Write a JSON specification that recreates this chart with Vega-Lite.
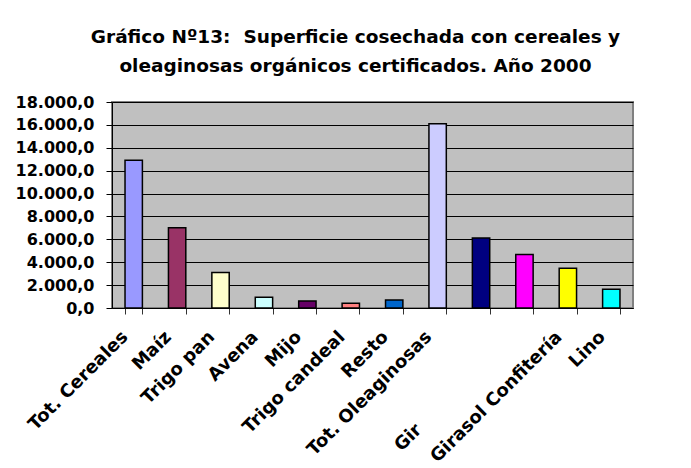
{
  "$schema": "https://vega.github.io/schema/vega-lite/v6.json",
  "width": 521,
  "height": 206,
  "autosize": "none",
  "padding": {"left": 112, "top": 102, "right": 58, "bottom": 160},
  "background": "white",
  "title": {
    "text": ["Gráfico Nº13:\u00a0 Superficie cosechada con cereales y", "oleaginosas orgánicos certificados. Año 2000"],
    "font": "DejaVu Sans",
    "fontWeight": "bold",
    "fontSize": 18.5,
    "lineHeight": 29,
    "color": "black",
    "anchor": "middle",
    "offset": 19,
    "dx": -17
  },
  "data": {
    "values": [
      {"cultivo": "Tot. Cereales", "superficie": 12900},
      {"cultivo": "Maíz", "superficie": 7020},
      {"cultivo": "Trigo pan", "superficie": 3100},
      {"cultivo": "Avena", "superficie": 940},
      {"cultivo": "Mijo", "superficie": 615},
      {"cultivo": "Trigo candeal", "superficie": 410},
      {"cultivo": "Resto", "superficie": 700},
      {"cultivo": "Tot. Oleaginosas", "superficie": 16100},
      {"cultivo": "Girasol", "superficie": 6120},
      {"cultivo": "Girasol Aceitero", "superficie": 4680},
      {"cultivo": "Girasol Confitería", "superficie": 3480},
      {"cultivo": "Lino", "superficie": 1640}
    ]
  },
  "mark": {"type": "bar", "stroke": "black", "strokeWidth": 1.5},
  "encoding": {
    "x": {
      "field": "cultivo",
      "type": "nominal",
      "sort": null,
      "scale": {"paddingInner": 0.6, "paddingOuter": 0.3},
      "axis": {
        "title": null,
        "labelAngle": -45,
        "labelAlign": {"condition": {"test": "datum.value == 'Girasol Aceitero'", "value": "left"}, "value": "right"},
        "labelBaseline": "middle",
        "labelFont": "DejaVu Sans",
        "labelFontWeight": "bold",
        "labelFontSize": 18,
        "labelColor": "black",
        "labelPadding": {"condition": {"test": "datum.value == 'Girasol Aceitero'", "value": 134}, "value": 20},
        "labelOffset": {"condition": {"test": "datum.value == 'Girasol Aceitero'", "value": -127}, "value": -9},
        "labelExpr": "datum.value == 'Girasol' ? '' : datum.value == 'Girasol Aceitero' ? 'Gir' : datum.label",
        "labelOverlap": false,
        "labelLimit": 400,
        "tickBand": "extent",
        "tickSize": 6,
        "tickColor": "#333333",
        "domainColor": "black",
        "domainWidth": 1
      }
    },
    "y": {
      "field": "superficie",
      "type": "quantitative",
      "scale": {"domain": [0, 18000], "nice": false},
      "axis": {
        "title": null,
        "values": [0, 2000, 4000, 6000, 8000, 10000, 12000, 14000, 16000, 18000],
        "labelExpr": "replace(replace(replace(format(datum.value, ',.1f'), ',', '_'), '.', ','), '_', '.')",
        "labelFont": "DejaVu Sans",
        "labelFontWeight": "bold",
        "labelFontSize": 16,
        "labelColor": "black",
        "labelPadding": 12,
        "tickSize": 6,
        "tickColor": "black",
        "domainColor": "black",
        "grid": true,
        "gridColor": "black",
        "gridWidth": 1,
        "gridOpacity": 1
      }
    },
    "color": {
      "field": "cultivo",
      "type": "nominal",
      "sort": null,
      "legend": null,
      "scale": {
        "domain": ["Tot. Cereales", "Maíz", "Trigo pan", "Avena", "Mijo", "Trigo candeal", "Resto", "Tot. Oleaginosas", "Girasol", "Girasol Aceitero", "Girasol Confitería", "Lino"],
        "range": ["#9999FF", "#993366", "#FFFFCC", "#CCFFFF", "#660066", "#FF8080", "#0066CC", "#CCCCFF", "#000080", "#FF00FF", "#FFFF00", "#00FFFF"]
      }
    }
  },
  "config": {
    "view": {"fill": "#C0C0C0", "stroke": "#808080", "strokeWidth": 2}
  }
}
